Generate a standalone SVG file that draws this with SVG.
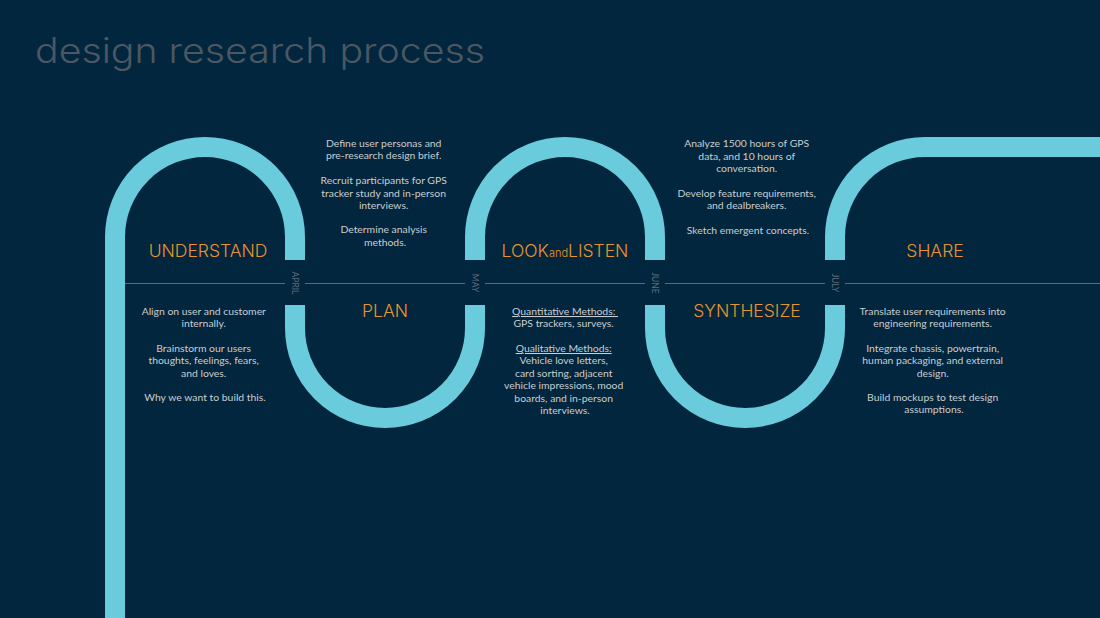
<svg xmlns="http://www.w3.org/2000/svg" width="1100" height="618" viewBox="0 0 1100 618">
  <style>
    .track { fill: none; stroke: #69cbdb; stroke-width: 20; stroke-linecap: butt; }
    .rule { stroke: #5d6a77; stroke-width: 1; }
    .title { font-family: Inter, Lato, "Liberation Sans", sans-serif; font-weight: 300; font-size: 35px; fill: #4b5864; }
    .head { font-family: Inter, Lato, "Liberation Sans", sans-serif; font-weight: 300; font-size: 17.5px; fill: #e8952f; text-anchor: middle; }
    .body { font-family: Lato, "Liberation Sans", sans-serif; font-size: 10.4px; fill: #c9cdd1; text-anchor: middle; }
    .month { font-family: Lato, "Liberation Sans", sans-serif; font-size: 8.5px; fill: #5f6d7a; text-anchor: middle; }
  </style>
  <rect width="1100" height="618" fill="#02263d"/>
  <text class="title" x="35" y="63" textLength="450" lengthAdjust="spacingAndGlyphs">design research process</text>

  <g id="connectors">
    <path class="track" d="M115,618 V237 A90,90 0 0 1 295,237 V260"/>
    <path class="track" d="M295,305 V328 A90,90 0 0 0 475,328 V305"/>
    <path class="track" d="M475,260 V237 A90,90 0 0 1 655,237 V260"/>
    <path class="track" d="M655,305 V328 A90,90 0 0 0 835,328 V305"/>
    <path class="track" d="M835,260 V237 A90,90 0 0 1 925,147 H1100"/>
    <line class="rule" x1="125" y1="283.5" x2="285" y2="283.5"/>
    <line class="rule" x1="305" y1="283.5" x2="465" y2="283.5"/>
    <line class="rule" x1="485" y1="283.5" x2="645" y2="283.5"/>
    <line class="rule" x1="665" y1="283.5" x2="825" y2="283.5"/>
    <line class="rule" x1="845" y1="283.5" x2="1100" y2="283.5"/>
  </g>

  <g id="months">
    <text class="month" transform="translate(292,283) rotate(90)">APRIL</text>
    <text class="month" transform="translate(472,283) rotate(90)">MAY</text>
    <text class="month" transform="translate(652,283) rotate(90)">JUNE</text>
    <text class="month" transform="translate(832,283) rotate(90)">JULY</text>
  </g>

  <g id="understand">
    <text class="head" x="208" y="257">UNDERSTAND</text>
    <text class="body" x="205">
      <tspan x="205" y="315">Align on user and customer</tspan>
      <tspan x="205" y="327">internally.</tspan>
      <tspan x="205" y="352">Brainstorm our users</tspan>
      <tspan x="205" y="364">thoughts, feelings, fears,</tspan>
      <tspan x="205" y="376.5">and loves.</tspan>
      <tspan x="205" y="400.5">Why we want to build this.</tspan>
    </text>
  </g>

  <g id="plan">
    <text class="head" x="385" y="317">PLAN</text>
    <text class="body">
      <tspan x="385" y="147">Define user personas and</tspan>
      <tspan x="385" y="159">pre-research design brief.</tspan>
      <tspan x="385" y="184">Recruit participants for GPS</tspan>
      <tspan x="385" y="196.5">tracker study and in-person</tspan>
      <tspan x="385" y="209">interviews.</tspan>
      <tspan x="385" y="233">Determine analysis</tspan>
      <tspan x="385" y="245.5">methods.</tspan>
    </text>
  </g>

  <g id="look-and-listen">
    <text class="head" x="565" y="257">LOOK<tspan font-size="11px">and</tspan>LISTEN</text>
    <text class="body">
      <tspan x="565" y="315" text-decoration="underline">Quantitative Methods: </tspan>
      <tspan x="565" y="327">GPS trackers, surveys.</tspan>
      <tspan x="565" y="352" text-decoration="underline">Qualitative Methods:</tspan>
      <tspan x="565" y="364">Vehicle love letters,</tspan>
      <tspan x="565" y="376.5">card sorting, adjacent</tspan>
      <tspan x="565" y="389">vehicle impressions, mood</tspan>
      <tspan x="565" y="401.5">boards, and in-person</tspan>
      <tspan x="565" y="414">interviews.</tspan>
    </text>
  </g>

  <g id="synthesize">
    <text class="head" x="747" y="317">SYNTHESIZE</text>
    <text class="body">
      <tspan x="748" y="147">Analyze 1500 hours of GPS</tspan>
      <tspan x="748" y="159.5">data, and 10 hours of</tspan>
      <tspan x="748" y="172">conversation.</tspan>
      <tspan x="748" y="197">Develop feature requirements,</tspan>
      <tspan x="748" y="209">and dealbreakers.</tspan>
      <tspan x="748" y="234">Sketch emergent concepts.</tspan>
    </text>
  </g>

  <g id="share">
    <text class="head" x="935" y="257">SHARE</text>
    <text class="body">
      <tspan x="934" y="314.5">Translate user requirements into</tspan>
      <tspan x="934" y="327">engineering requirements.</tspan>
      <tspan x="934" y="352">Integrate chassis, powertrain,</tspan>
      <tspan x="934" y="364">human packaging, and external</tspan>
      <tspan x="934" y="376.5">design.</tspan>
      <tspan x="934" y="400.5">Build mockups to test design</tspan>
      <tspan x="934" y="413">assumptions.</tspan>
    </text>
  </g>
</svg>
